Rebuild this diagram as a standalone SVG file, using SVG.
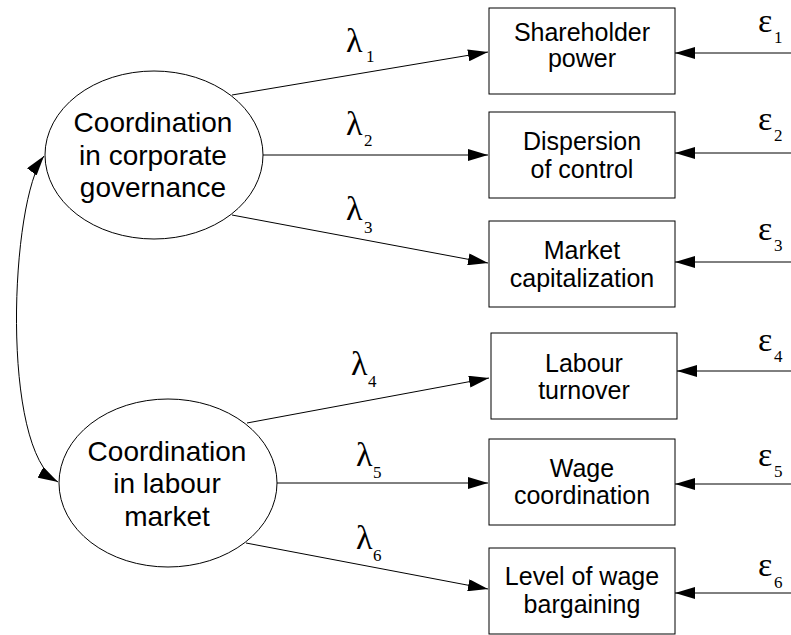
<svg xmlns="http://www.w3.org/2000/svg" width="791" height="635" viewBox="0 0 791 635">
<defs>
<style>
.node{fill:#fff;stroke:#000;stroke-width:1}
.bt{font-family:"Liberation Sans",Arial,sans-serif;font-size:25px;text-anchor:middle;fill:#000}
.et{font-family:"Liberation Sans",Arial,sans-serif;font-size:28px;text-anchor:middle;fill:#000}
.gr{font-family:"Liberation Serif","Times New Roman",serif;font-size:34px;fill:#000}
.sub{font-family:"Liberation Serif","Times New Roman",serif;font-size:17px;fill:#000}
.con{fill:none;stroke:#000;stroke-width:1}
</style>
<marker id="ah" markerUnits="userSpaceOnUse" markerWidth="20" markerHeight="12" refX="20" refY="6" orient="auto-start-reverse" viewBox="0 0 20 12">
<path d="M0,0 L20,6 L0,12 z" fill="#000"/>
</marker>
</defs>
<rect width="791" height="635" fill="#fff"/>

<g id="connectors">
<path class="con" d="M232,95 L488,52" marker-end="url(#ah)"/>
<path class="con" d="M263,155 L488,155" marker-end="url(#ah)"/>
<path class="con" d="M232,215 L488,263" marker-end="url(#ah)"/>
<path class="con" d="M247,423 L489,378" marker-end="url(#ah)"/>
<path class="con" d="M277,483 L488,483" marker-end="url(#ah)"/>
<path class="con" d="M246,543 L488,589" marker-end="url(#ah)"/>
<path class="con" d="M791,53 L675,53" marker-end="url(#ah)"/>
<path class="con" d="M791,153 L675,153" marker-end="url(#ah)"/>
<path class="con" d="M791,262 L675,262" marker-end="url(#ah)"/>
<path class="con" d="M791,371 L677,371" marker-end="url(#ah)"/>
<path class="con" d="M791,484 L675,484" marker-end="url(#ah)"/>
<path class="con" d="M791,593 L675,593" marker-end="url(#ah)"/>
<path class="con" d="M44,156 C10,200 0,450 58,482" marker-start="url(#ah)" marker-end="url(#ah)"/>
<text class="gr" x="346" y="52">λ</text><text class="sub" x="366" y="62">1</text>
<text class="gr" x="346" y="135">λ</text><text class="sub" x="364" y="146">2</text>
<text class="gr" x="346" y="220">λ</text><text class="sub" x="364" y="233">3</text>
<text class="gr" x="351" y="375">λ</text><text class="sub" x="368" y="387">4</text>
<text class="gr" x="356" y="466">λ</text><text class="sub" x="373" y="478">5</text>
<text class="gr" x="356" y="549">λ</text><text class="sub" x="373" y="561">6</text>
<text class="gr" x="758" y="32">ε</text><text class="sub" x="774" y="43">1</text>
<text class="gr" x="758" y="130">ε</text><text class="sub" x="774" y="141">2</text>
<text class="gr" x="758" y="240">ε</text><text class="sub" x="774" y="251">3</text>
<text class="gr" x="758" y="351">ε</text><text class="sub" x="774" y="362">4</text>
<text class="gr" x="758" y="466">ε</text><text class="sub" x="774" y="477">5</text>
<text class="gr" x="758" y="576">ε</text><text class="sub" x="774" y="588">6</text>
</g>

<g id="latent-governance">
<ellipse class="node" cx="154" cy="155" rx="109" ry="84"/>
<text class="et" x="153" y="132">Coordination</text>
<text class="et" x="153" y="165">in corporate</text>
<text class="et" x="153" y="197">governance</text>
</g>
<g id="latent-labour">
<ellipse class="node" cx="168" cy="483" rx="109" ry="84"/>
<text class="et" x="167" y="461">Coordination</text>
<text class="et" x="167" y="493">in labour</text>
<text class="et" x="167" y="526">market</text>
</g>

<g id="box-shareholder">
<rect class="node" x="489" y="8" width="186" height="86"/>
<text class="bt" x="582" y="41">Shareholder</text>
<text class="bt" x="582" y="67">power</text>
</g>
<g id="box-dispersion">
<rect class="node" x="489" y="112" width="186" height="86"/>
<text class="bt" x="582" y="150">Dispersion</text>
<text class="bt" x="582" y="178">of control</text>
</g>
<g id="box-market">
<rect class="node" x="489" y="221" width="186" height="86"/>
<text class="bt" x="582" y="259">Market</text>
<text class="bt" x="582" y="287">capitalization</text>
</g>
<g id="box-turnover">
<rect class="node" x="491" y="333" width="186" height="86"/>
<text class="bt" x="584" y="372">Labour</text>
<text class="bt" x="584" y="399">turnover</text>
</g>
<g id="box-wage">
<rect class="node" x="489" y="439" width="186" height="86"/>
<text class="bt" x="582" y="477">Wage</text>
<text class="bt" x="582" y="504">coordination</text>
</g>
<g id="box-bargaining">
<rect class="node" x="489" y="548" width="186" height="86"/>
<text class="bt" x="582" y="585">Level of wage</text>
<text class="bt" x="582" y="613">bargaining</text>
</g>
</svg>
